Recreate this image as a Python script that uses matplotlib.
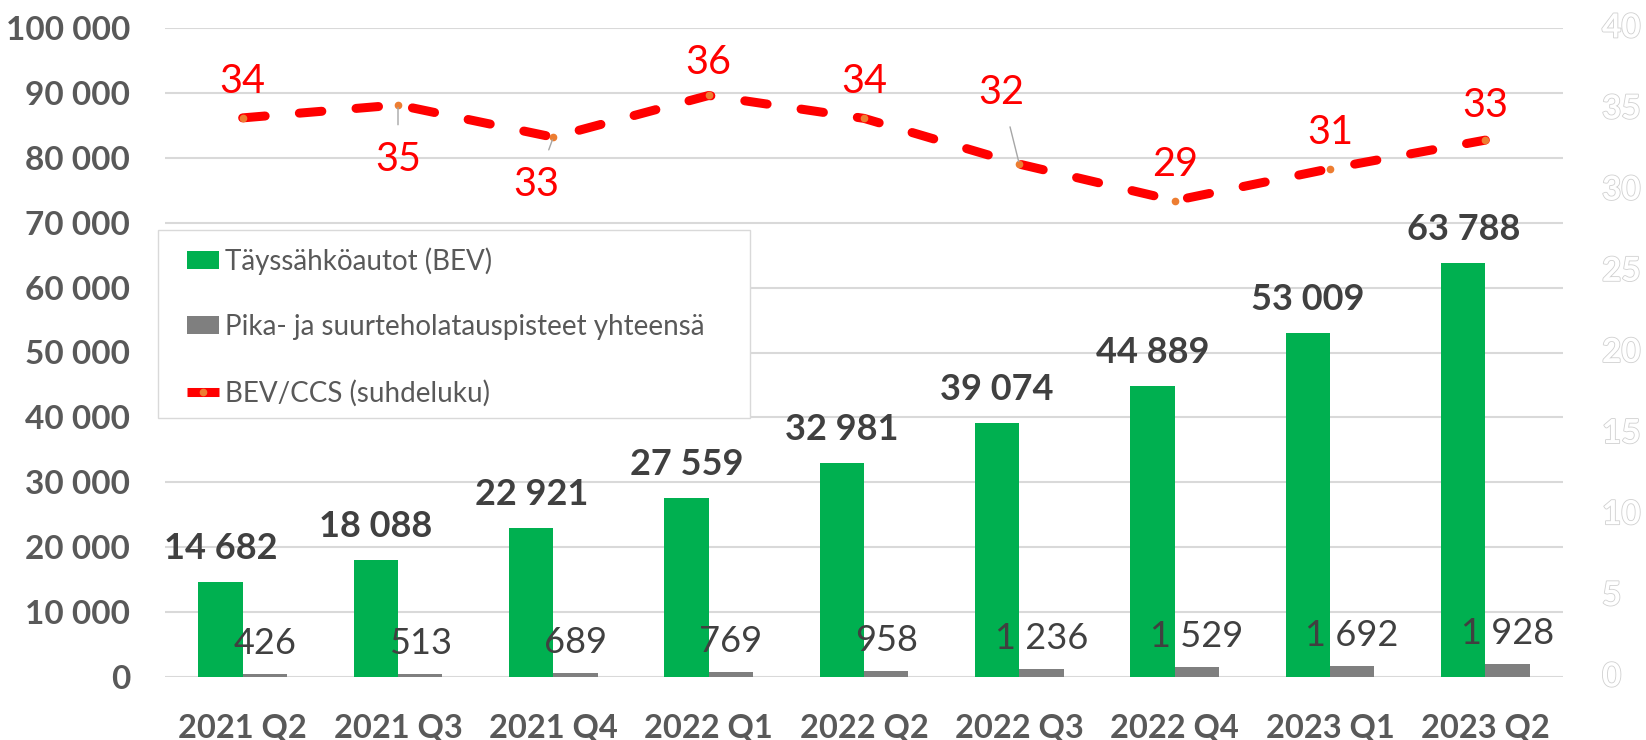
import numpy as np
import matplotlib
matplotlib.use("Agg")
import matplotlib.pyplot as plt
from matplotlib.lines import Line2D
from matplotlib.patches import Patch, Rectangle
import matplotlib.patheffects as pe

quarters = ["2021 Q2", "2021 Q3", "2021 Q4", "2022 Q1", "2022 Q2",
            "2022 Q3", "2022 Q4", "2023 Q1", "2023 Q2"]
bev = [14682, 18088, 22921, 27559, 32981, 39074, 44889, 53009, 63788]
ccs = [426, 513, 689, 769, 958, 1236, 1529, 1692, 1928]
ratio = [34.46, 35.26, 33.27, 35.84, 34.43, 31.61, 29.36, 31.33, 33.09]
ratio_labels = ["34", "35", "33", "36", "34", "32", "29", "31", "33"]

# label offsets in pixels (dx, dy) and whether a leader line is drawn
ratio_offsets = [(0, 36), (0, -55), (-17, -47), (0, 33), (0, 37),
                 (-18, 72), (0, 36), (0, 36), (0, 35)]
ratio_leader = [False, True, True, False, False, True, False, False, False]

GREEN = "#00B050"
GRAY = "#7F7F7F"
RED = "#FF0000"
ORANGE = "#ED7D31"
LABEL = "#404040"
TICK = "#595959"

plt.rcParams["font.family"] = ["Lato", "DejaVu Sans"]

W, H = 1646, 740
fig = plt.figure(figsize=(W / 100, H / 100), dpi=100)
ax = fig.add_axes([165 / W, 1 - 677 / H, (1563 - 165) / W, (677 - 28) / H])

x = np.arange(len(quarters))
bw = 0.285
ax.bar(x - bw / 2, bev, bw, color=GREEN, zorder=3)
ax.bar(x + bw / 2, ccs, bw, color=GRAY, zorder=3)

for xi, v in zip(x, bev):
    ax.annotate(f"{v:,}".replace(",", " "), (xi - bw / 2, v),
                xytext=(0, 17), textcoords="offset pixels",
                ha="center", va="bottom", fontsize=26, fontweight="bold",
                color=LABEL, zorder=5)
for xi, v in zip(x, ccs):
    ax.annotate(f"{v:,}".replace(",", " "), (xi + bw / 2, v),
                xytext=(0, 14), textcoords="offset pixels",
                ha="center", va="bottom", fontsize=26,
                color=LABEL, zorder=5)

ax.set_xlim(-0.5, len(quarters) - 0.5)
ax.set_ylim(0, 100000)
ax.set_yticks(np.arange(0, 100001, 10000))
ax.set_yticklabels([f"{v:,}".replace(",", " ") for v in range(0, 100001, 10000)])
ax.set_xticks(x)
ax.set_xticklabels(quarters)
ax.tick_params(axis="y", length=0, pad=25, labelsize=24, labelcolor=TICK)
ax.tick_params(axis="x", length=0, pad=26, labelsize=23.5, labelcolor=TICK)
for lab in ax.get_xticklabels() + ax.get_yticklabels():
    lab.set_fontweight("bold")
ax.yaxis.grid(True, color="#d9d9d9", lw=1.5, zorder=0)
ax.set_axisbelow(True)
for s in ax.spines.values():
    s.set_visible(False)

ax2 = ax.twinx()
ax2.set_ylim(0, 40)
ax2.set_yticks([])
for s in ax2.spines.values():
    s.set_visible(False)
ax2.plot(x, ratio, color=RED, lw=6.5, linestyle=(0, (2.5, 3.8)),
         dash_capstyle="round", solid_capstyle="round", zorder=4)
ax2.plot(x, ratio, linestyle="none", marker="o", ms=4.5,
         color=ORANGE, mec=ORANGE, zorder=5)

for xi, v, lab, (dx, dy), lead in zip(x, ratio, ratio_labels, ratio_offsets, ratio_leader):
    props = None
    if lead:
        props = dict(arrowstyle="-", color="#a6a6a6", lw=1, shrinkA=10, shrinkB=2)
    ax2.annotate(lab, (xi, v), xytext=(dx, dy), textcoords="offset pixels",
                 ha="center", va="center", fontsize=28.5, color=RED,
                 arrowprops=props, zorder=6)

# right axis labels: white fill with faint outline
for t in range(0, 41, 5):
    ax2.text(1 + 39 / 1398, t, str(t), transform=ax2.get_yaxis_transform(),
             ha="left", va="center", fontsize=24, fontweight="bold",
             color="white",
             path_effects=[pe.withStroke(linewidth=1.2, foreground="#d0d0d0")])

# legend
fig.patches.append(Rectangle((158 / W, 1 - 418 / H), (750 - 158) / W, (418 - 230) / H,
                             transform=fig.transFigure, facecolor="white",
                             edgecolor="#d9d9d9", lw=1, zorder=1))
handles = [
    Patch(facecolor=GREEN),
    Patch(facecolor=GRAY),
    Line2D([0], [0], color=RED, lw=6.5, solid_capstyle="butt",
           marker="o", ms=4.5, mfc=ORANGE, mec=ORANGE),
]
labels = ["Täyssähköautot (BEV)", "Pika- ja suurteholatauspisteet yhteensä",
          "BEV/CCS (suhdeluku)"]
fig.legend(handles, labels, loc="upper left",
           bbox_to_anchor=(187 / W, 1 - 247 / H), frameon=False,
           fontsize=20, labelcolor=TICK, handlelength=1.15, handleheight=0.61,
           handletextpad=0.22, labelspacing=1.42, borderpad=0, borderaxespad=0)

fig.savefig("out.png", dpi=100)
